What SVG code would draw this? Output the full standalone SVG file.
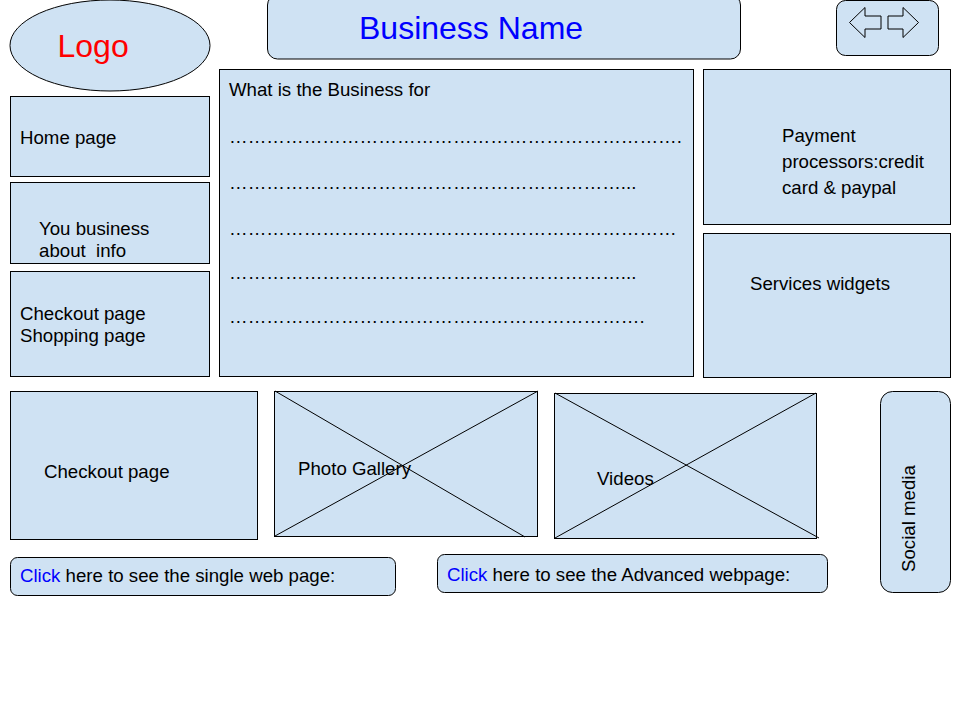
<svg xmlns="http://www.w3.org/2000/svg" width="960" height="720" viewBox="0 0 960 720">
<style>
.b{fill:#cfe2f3;stroke:#000;stroke-width:1}
.l{stroke:#000;stroke-width:1;fill:none}
text{font-family:"Liberation Sans",Arial,sans-serif;font-size:18.667px;fill:#000;white-space:pre}
.c{fill:#0000ff}
</style>
<rect width="960" height="720" fill="#fff"/>
<g id="logo"><ellipse class="b" cx="110" cy="45.500" rx="100" ry="45.500"/><text x="57.500" y="57" style="font-size:32px;fill:#f00">Logo</text></g>
<g id="business-name"><rect class="b" x="267.500" y="-5" width="473" height="64" rx="10"/><text x="359" y="39" style="font-size:32px;fill:#00f">Business Name</text></g>
<g id="nav"><rect class="b" x="836.500" y="0.500" width="102" height="55" rx="9"/><path class="b" d="M849.500 22.500L865 7.500V16H881V29H865V37.500Z"/><path class="b" d="M918.500 22.500L903 7.500V16H888V29H903V37.500Z"/></g>
<g id="main"><rect class="b" x="219.500" y="69.500" width="474" height="307"/>
<text x="229" y="96">What is the Business for</text>
<text x="229" y="143">……………………………………………………………….</text>
<text x="229" y="189">………………………………………………………...</text>
<text x="229" y="235">………………………………………………………………</text>
<text x="229" y="279">………………………………………………………...</text>
<text x="229" y="323">………………………………………………………….</text>
</g>
<g id="payment"><rect class="b" x="703.500" y="69.500" width="247" height="155"/><text x="782" y="142">Payment</text><text x="782" y="168">processors:credit</text><text x="782" y="194">card &amp; paypal</text></g>
<g id="services"><rect class="b" x="703.500" y="233.500" width="247" height="144"/><text x="750" y="290">Services widgets</text></g>
<g id="home"><rect class="b" x="10.500" y="96.500" width="199" height="80"/><text x="20" y="144">Home page</text></g>
<g id="about"><rect class="b" x="10.500" y="182.500" width="199" height="81"/><text x="39" y="235">You business</text><text x="39" y="257">about  info</text></g>
<g id="checkout-shopping"><rect class="b" x="10.500" y="271.500" width="199" height="105"/><text x="20" y="320">Checkout page</text><text x="20" y="342">Shopping page</text></g>
<g id="checkout"><rect class="b" x="10.500" y="391.500" width="247" height="148"/><text x="44" y="478">Checkout page</text></g>
<g id="gallery"><rect class="b" x="274.500" y="391.500" width="263" height="145"/><text x="298" y="475">Photo Gallery</text></g>
<g id="videos"><rect class="b" x="554.500" y="393.500" width="262" height="145"/><text x="597" y="485">Videos</text></g>
<g id="social"><rect class="b" x="880.500" y="391.500" width="70" height="201" rx="12"/><text transform="translate(914.500 572) rotate(-90)">Social media</text></g>
<g id="single-link"><rect class="b" x="10.500" y="557.500" width="385" height="38" rx="7"/><text x="20" y="582"><tspan class="c">Click</tspan> here to see the single web page:</text></g>
<g id="advanced-link"><rect class="b" x="437.500" y="554.500" width="390" height="38" rx="7"/><text x="447" y="581"><tspan class="c">Click</tspan> here to see the Advanced webpage:</text></g>
<g id="connectors"><path class="l" d="M275 391L525 537M538 391L275 536M555 393L819 538M816 393L555 538"/></g>
</svg>
